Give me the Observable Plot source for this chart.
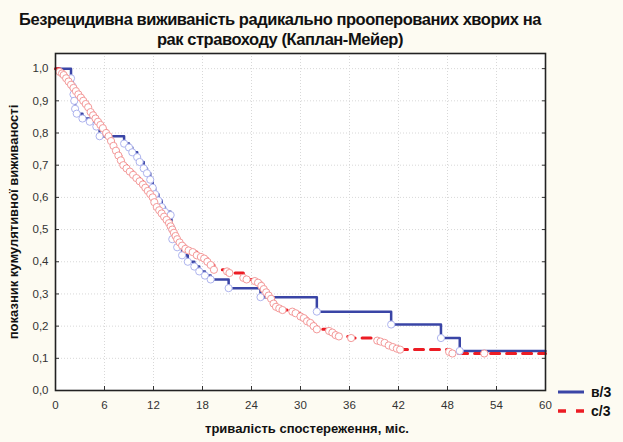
<!DOCTYPE html>
<html>
<head>
<meta charset="utf-8">
<script src="https://cdn.jsdelivr.net/npm/d3@7"></script>
<script src="https://cdn.jsdelivr.net/npm/@observablehq/plot@0.6"></script>
<style>
  html, body { margin: 0; padding: 0; background: #fdfbf2; }
  #wrap { position: relative; width: 623px; height: 442px; overflow: hidden; font-family: "Liberation Sans Narrow", "Liberation Sans", Arial, sans-serif; }
  #title { position: absolute; left: 0; width: 560px; top: 9px; text-align: center; font-weight: bold; font-size: 16.5px; letter-spacing: -0.45px; line-height: 20px; color: #111; }
  #ylab { position: absolute; left: 13px; top: 222px; transform: translate(-50%, -50%) rotate(-90deg); white-space: nowrap; font-weight: bold; font-size: 13px; color: #111; }
  #xlab { position: absolute; left: 307px; top: 428px; transform: translate(-50%, -50%); white-space: nowrap; font-weight: bold; font-size: 13px; color: #111; }
  .leg { position: absolute; left: 557px; display: flex; align-items: center; font-family: "Liberation Sans", Arial, sans-serif; font-weight: bold; font-size: 14px; color: #111; }
  .leg svg { margin-right: 6px; }
  #chart { position: absolute; left: 0; top: 0; }
</style>
</head>
<body>
<div id="wrap">
  <div id="chart"></div>
  <div id="title">Безрецидивна виживаність радикально прооперованих хворих на<br>рак стравоходу (Каплан-Мейер)</div>
  <div id="ylab">показник кумулятивної виживаності</div>
  <div id="xlab">тривалість спостереження, міс.</div>
  <div class="leg" id="leg1" style="top:383px"></div>
  <div class="leg" id="leg2" style="top:402px"></div>
</div>
<script>
// ---- data ----
const seriesNames = ["в/3", "с/3"];
const xTicks = [0, 6, 12, 18, 24, 30, 36, 42, 48, 54, 60];
const yTicks = [0, 0.1, 0.2, 0.3, 0.4, 0.5, 0.6, 0.7, 0.8, 0.9, 1.0];

// group "в/3" : observation times (months) and survival after each observation
const blueTime = [1.9, 2.1, 2.2, 2.3, 2.4, 2.6, 3.3, 4.2, 5.0, 5.4, 8.4, 9.0, 9.4, 10.0, 10.3, 10.8, 11.2, 11.6, 11.9, 12.2, 12.6, 13.0, 13.4, 14.1, 14.2, 14.3, 14.9, 15.5, 16.2, 17.0, 17.6, 18.3, 19.0, 21.2, 25.1, 32.0, 41.1, 47.2, 49.5];
const blueSurv = [0.97, 0.945, 0.92, 0.90, 0.875, 0.86, 0.845, 0.835, 0.82, 0.79, 0.767, 0.755, 0.74, 0.725, 0.71, 0.69, 0.675, 0.655, 0.63, 0.61, 0.59, 0.57, 0.555, 0.545, 0.505, 0.47, 0.445, 0.42, 0.40, 0.385, 0.37, 0.357, 0.345, 0.318, 0.29, 0.245, 0.205, 0.163, 0.123];

// group "с/3"
const redTime = [0.5, 0.8, 1.0, 1.3, 1.6, 1.9, 2.2, 2.5, 2.8, 3.1, 3.4, 3.7, 4.0, 4.3, 4.6, 4.9, 5.2, 5.5, 5.8, 6.2, 6.5, 6.8, 7.1, 7.4, 7.7, 8.0, 8.3, 8.7, 9.1, 9.5, 9.9, 10.3, 10.7, 11.0, 11.3, 11.6, 11.9, 12.1, 12.4, 12.7, 13.0, 13.3, 13.6, 13.9, 14.1, 14.3, 14.5, 14.7, 14.9, 15.2, 15.5, 15.9, 16.3, 16.8, 17.3, 17.8, 18.2, 18.6, 19.0, 19.4, 21.0, 21.3, 23.0, 23.4, 24.4, 24.8, 25.2, 25.5, 25.8, 26.1, 26.4, 26.7, 27.0, 27.4, 27.8, 29.0, 29.4, 30.0, 30.4, 30.8, 31.2, 31.6, 32.0, 33.5, 33.9, 34.3, 34.7, 36.2, 39.4, 39.8, 40.3, 40.8, 41.3, 41.8, 42.2, 48.2, 48.6, 52.5];
const redSurv = [0.99, 0.985, 0.98, 0.97, 0.96, 0.95, 0.94, 0.93, 0.92, 0.91, 0.90, 0.89, 0.88, 0.865, 0.855, 0.845, 0.835, 0.825, 0.815, 0.80, 0.79, 0.775, 0.76, 0.745, 0.73, 0.715, 0.70, 0.69, 0.68, 0.67, 0.66, 0.65, 0.64, 0.63, 0.62, 0.61, 0.60, 0.585, 0.57, 0.56, 0.55, 0.54, 0.53, 0.52, 0.51, 0.50, 0.49, 0.48, 0.47, 0.46, 0.45, 0.44, 0.435, 0.43, 0.42, 0.415, 0.41, 0.40, 0.39, 0.375, 0.37, 0.365, 0.35, 0.345, 0.34, 0.335, 0.325, 0.315, 0.305, 0.295, 0.285, 0.27, 0.26, 0.255, 0.25, 0.245, 0.24, 0.23, 0.225, 0.215, 0.21, 0.20, 0.19, 0.185, 0.18, 0.172, 0.168, 0.163, 0.155, 0.152, 0.148, 0.14, 0.135, 0.13, 0.127, 0.12, 0.115, 0.115];

// ---- build tables ----
const xMax = 60;
const bluePts = blueTime.map((t, i) => ({t, s: blueSurv[i]}));
const redPts = redTime.map((t, i) => ({t, s: redSurv[i]}));
const stepLine = pts => [{t: 0, s: 1}, ...pts, {t: xMax, s: pts[pts.length - 1].s}];

const blueColor = "#3a45a6";
const redColor = "#ec1c24";
const fmt = d => d3.format(".1f")(d).replace(".", ",");

const plot = Plot.plot({
  width: 623,
  height: 442,
  marginTop: 53,
  marginBottom: 52,
  marginLeft: 55,
  marginRight: 78,
  style: {background: "transparent", fontFamily: "'Liberation Sans', Arial, sans-serif", fontSize: "11.5px", color: "#333"},
  x: {domain: [0, xMax], ticks: xTicks},
  y: {domain: [0, 1.047], ticks: yTicks},
  marks: [
    Plot.frame({fill: "white"}),
    Plot.gridX(xTicks, {stroke: "#d8d8d8", strokeOpacity: 1, strokeDasharray: "1,2"}),
    Plot.gridY(yTicks, {stroke: "#d8d8d8", strokeOpacity: 1, strokeDasharray: "1,2"}),
    Plot.axisX(xTicks, {tickSize: -4, tickPadding: 14, tickFormat: d => String(d), label: null, stroke: "#333", fill: "#333"}),
    Plot.axisY(yTicks, {tickSize: -4, tickPadding: 11, tickFormat: fmt, label: null, stroke: "#333", fill: "#333"}),
    Plot.axisY(yTicks, {anchor: "right", tickSize: -4, tickFormat: () => "", label: null, stroke: "#333"}),
    Plot.line(stepLine(bluePts), {x: "t", y: "s", curve: "step-after", stroke: blueColor, strokeWidth: 2.5}),
    Plot.line(stepLine(redPts), {x: "t", y: "s", curve: "step-after", stroke: redColor, strokeWidth: 3, strokeDasharray: "9,7"}),
    Plot.dot(bluePts, {x: "t", y: "s", r: 3.6, fill: "white", stroke: "#aeb4ee", strokeWidth: 1}),
    Plot.dot(redPts, {x: "t", y: "s", r: 3.6, fill: "white", stroke: "#f49a9a", strokeWidth: 1}),
    Plot.frame({stroke: "#222", strokeWidth: 1.6})
  ]
});
document.getElementById("chart").appendChild(plot);

// legend
const legs = [
  {id: "leg1", color: blueColor, dash: null, name: seriesNames[0]},
  {id: "leg2", color: redColor, dash: "8,10", name: seriesNames[1]}
];
for (const l of legs) {
  const el = document.getElementById(l.id);
  el.innerHTML = `<svg width="28" height="18"><line x1="1" x2="27" y1="9" y2="9" stroke="${l.color}" stroke-width="${l.dash ? 3.5 : 3}" ${l.dash ? `stroke-dasharray="${l.dash}"` : ""}/></svg><span>${l.name}</span>`;
}
</script>
</body>
</html>
